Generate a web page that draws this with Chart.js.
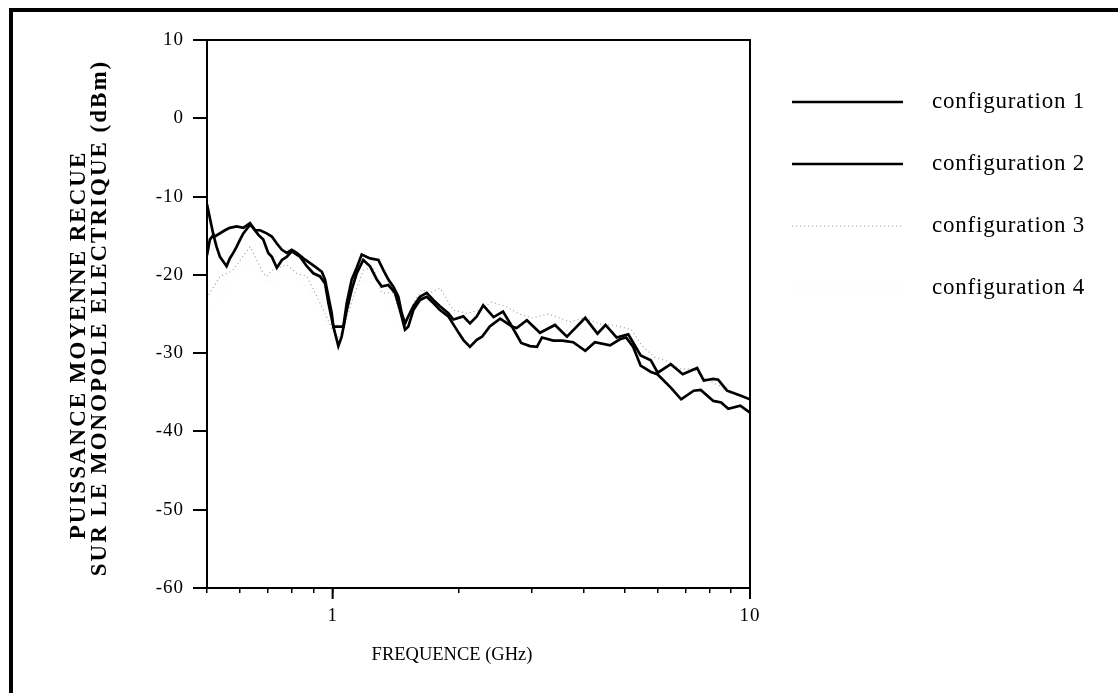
<!DOCTYPE html>
<html>
<head>
<meta charset="utf-8">
<script src="https://cdn.jsdelivr.net/npm/chart.js@4.4.1/dist/chart.umd.min.js"></script>
<style>
  html, body { margin: 0; padding: 0; background: #fff; }
  #page { position: relative; width: 1118px; height: 693px; overflow: hidden; }
  #cadre { position: absolute; left: 9px; top: 8px; width: 1200px; height: 800px; border-left: 4px solid #000; border-top: 4px solid #000; }
  canvas { position: absolute; left: 0; top: 0; }
</style>
</head>
<body>
<div id="page">
  <canvas id="graphe" width="1118" height="693"></canvas>
  <div id="cadre"></div>
</div>
<script>
// Fréquences (GHz) et puissances (dBm)
const freqConfig1 = [0.5, 0.518, 0.522, 0.552, 0.567, 0.589, 0.611, 0.634, 0.652, 0.670, 0.695, 0.715, 0.735, 0.756, 0.776, 0.798, 0.820, 0.851, 0.883, 0.916, 0.942, 0.959, 0.977, 0.995, 1.004, 1.061, 1.081, 1.111, 1.142, 1.174, 1.229, 1.287, 1.323, 1.360, 1.398, 1.437, 1.464, 1.491, 1.518, 1.561, 1.619, 1.680, 1.743, 1.808, 1.893, 1.947, 2.056, 2.133, 2.215, 2.295, 2.43, 2.56, 2.69, 2.83, 2.97, 3.087, 3.174, 3.38, 3.55, 3.77, 4.03, 4.25, 4.62, 4.89, 5.05, 5.25, 5.47, 5.79, 6.0, 6.46, 6.84, 7.33, 7.62, 8.17, 8.53, 8.87, 9.48, 10];
const dbmConfig1 = [-11, -14.9, -15.1, -14.3, -14.0, -13.8, -14.0, -13.4, -14.3, -14.3, -14.7, -15.1, -16.0, -16.8, -17.2, -16.8, -17.2, -17.9, -18.5, -19.1, -19.6, -20.6, -22.8, -24.9, -26.6, -26.6, -23.6, -20.6, -19.1, -17.4, -17.9, -18.1, -19.4, -20.6, -21.5, -22.8, -24.9, -26.2, -25.3, -24.0, -22.8, -22.3, -23.2, -24.0, -24.9, -25.7, -25.3, -26.2, -25.3, -23.9, -25.4, -24.7, -26.6, -28.7, -29.1, -29.2, -28.0, -28.4, -28.4, -28.6, -29.7, -28.6, -29.0, -28.2, -28.0, -29.2, -31.6, -32.4, -32.7, -34.4, -35.9, -34.8, -34.7, -36.1, -36.3, -37.1, -36.7, -37.6];

const freqConfig2 = [0.5, 0.508, 0.518, 0.527, 0.537, 0.547, 0.557, 0.567, 0.578, 0.589, 0.600, 0.611, 0.634, 0.645, 0.664, 0.682, 0.701, 0.715, 0.735, 0.756, 0.776, 0.798, 0.836, 0.867, 0.899, 0.933, 0.959, 0.977, 1.004, 1.032, 1.051, 1.081, 1.111, 1.142, 1.184, 1.229, 1.276, 1.311, 1.360, 1.411, 1.450, 1.491, 1.518, 1.561, 1.619, 1.680, 1.743, 1.808, 1.893, 1.982, 2.056, 2.133, 2.215, 2.28, 2.38, 2.52, 2.69, 2.76, 2.92, 3.139, 3.41, 3.643, 4.03, 4.31, 4.506, 4.79, 5.11, 5.47, 5.785, 6.01, 6.46, 6.9, 7.47, 7.75, 8.17, 8.39, 8.81, 9.48, 10];
const dbmConfig2 = [-17.5, -15.5, -14.9, -16.4, -17.7, -18.3, -18.9, -17.9, -17.2, -16.4, -15.5, -14.7, -13.6, -14.0, -14.9, -15.5, -17.2, -17.7, -19.1, -18.1, -17.7, -17.0, -17.7, -18.9, -19.8, -20.2, -21.1, -23.6, -26.6, -29.1, -27.9, -24.5, -21.9, -19.8, -18.1, -18.9, -20.6, -21.5, -21.3, -22.3, -24.5, -27.0, -26.6, -24.5, -23.2, -22.8, -23.6, -24.5, -25.3, -27.0, -28.3, -29.2, -28.3, -27.9, -26.6, -25.6, -26.6, -26.8, -25.8, -27.4, -26.4, -27.9, -25.5, -27.5, -26.4, -28.0, -27.6, -30.3, -30.9, -32.5, -31.4, -32.7, -31.9, -33.5, -33.3, -33.4, -34.8, -35.4, -35.9];

const freqConfig3 = [0.5, 0.508, 0.537, 0.575, 0.634, 0.645, 0.682, 0.695, 0.715, 0.776, 0.820, 0.867, 0.908, 0.950, 1.023, 1.061, 1.121, 1.184, 1.251, 1.311, 1.398, 1.450, 1.491, 1.561, 1.634, 1.711, 1.808, 1.947, 2.095, 2.254, 2.4, 2.6, 2.8, 3.0, 3.3, 3.7, 4.0, 4.4, 4.8, 5.2, 5.5, 5.9, 6.3, 6.8, 7.3, 7.8, 8.3, 8.8, 9.3, 10];
const dbmConfig3 = [-23, -22.3, -20.2, -19.5, -16.4, -17.2, -19.8, -20.2, -19.4, -18.7, -19.8, -20.2, -22.3, -24.5, -28.3, -27.0, -22.8, -19.4, -19.0, -22.3, -22.3, -24.9, -26.6, -23.6, -21.9, -22.3, -21.7, -24.5, -24.9, -24.5, -23.5, -24.0, -25.0, -25.5, -25.0, -26.0, -25.5, -26.3, -26.5, -27.0, -29.0, -30.5, -31.0, -32.0, -32.0, -33.2, -34.0, -34.5, -35.3, -36.0];

const freqConfig4 = [0.5, 0.55, 0.62, 0.7, 0.78, 0.87, 0.95, 1.02, 1.08, 1.18, 1.3, 1.45, 1.6, 1.8, 2.0, 2.3, 2.7, 3.0, 3.5, 4.0, 4.5, 5.0, 5.5, 6.0, 7.0, 8.0, 9.0, 10];
const dbmConfig4 = [-25, -22, -18.5, -21, -20, -21.5, -25.5, -29.5, -25, -20.5, -21.5, -26, -23, -23, -25.5, -25, -25.5, -26.5, -26, -27, -27, -27.5, -30, -31, -32.5, -34, -35, -36.5];

const nomsConfig = ['configuration 1', 'configuration 2', 'configuration 3', 'configuration 4'];

// Graduations
const xGraduations = [0.5, 0.6, 0.7, 0.8, 0.9, 1, 2, 3, 4, 5, 6, 7, 8, 9, 10];
const xEtiquettes = [1, 10];
const yMin = -60, yMax = 10, yPas = 10;

const titreX = 'FREQUENCE (GHz)';
const titreY = ['PUISSANCE MOYENNE RECUE', 'SUR LE MONOPOLE ELECTRIQUE (dBm)'];

function points(freqs, dbms) {
    return freqs.map((f, i) => ({ x: f, y: dbms[i] }));
}

// Plugin: cadre du graphe, titres des axes, légende
const habillage = {
    id: 'habillage',
    beforeDraw(chart) {
        chart.ctx.letterSpacing = '1px';   // chiffres un peu espacés
    },
    beforeDatasetsDraw(chart) {
        chart.ctx.letterSpacing = '0px';
    },
    afterDraw(chart) {
        const ctx = chart.ctx;
        const a = chart.chartArea;
        const x = chart.scales.x;
        ctx.save();
        ctx.strokeStyle = '#000';
        ctx.lineWidth = 2;
        ctx.strokeRect(a.left, a.top, a.right - a.left, a.bottom - a.top);

        // graduations principales plus longues
        ctx.beginPath();
        xEtiquettes.forEach(v => {
            const px = x.getPixelForValue(v);
            ctx.moveTo(px, a.bottom);
            ctx.lineTo(px, a.bottom + 11);
        });
        ctx.stroke();

        ctx.fillStyle = '#000';
        ctx.textBaseline = 'middle';
        ctx.textAlign = 'center';
        ctx.font = '18.5px "Liberation Serif"';
        ctx.fillText(titreX, 452, 655);

        // titre axe y (texte vertical)
        ctx.font = 'bold 23px "Liberation Serif"';
        ctx.letterSpacing = '2px';
        [[79, 345], [100, 318]].forEach((pos, i) => {
            ctx.save();
            ctx.translate(pos[0], pos[1]);
            ctx.rotate(-Math.PI / 2);
            ctx.fillText(titreY[i], 0, 0);
            ctx.restore();
        });

        // légende
        ctx.textAlign = 'left';
        ctx.font = '23px "Liberation Serif"';
        ctx.letterSpacing = '0.8px';
        chart.data.datasets.forEach((ds, i) => {
            const y = 102 + i * 62;
            ctx.save();
            ctx.strokeStyle = ds.borderColor;
            ctx.lineWidth = ds.borderWidth;
            ctx.setLineDash(ds.borderDash || []);
            ctx.beginPath();
            ctx.moveTo(792, y);
            ctx.lineTo(903, y);
            ctx.stroke();
            ctx.restore();
            ctx.fillText(ds.label, 932, y);
        });
        ctx.letterSpacing = '0px';
        ctx.restore();
    }
};

const ctx = document.getElementById('graphe').getContext('2d');
const graphe = new Chart(ctx, {
    type: 'line',
    data: {
        datasets: [{
            label: nomsConfig[0],
            data: points(freqConfig1, dbmConfig1),
            borderColor: '#000',
            borderWidth: 2.7
        }, {
            label: nomsConfig[1],
            data: points(freqConfig2, dbmConfig2),
            borderColor: '#000',
            borderWidth: 2.7
        }, {
            label: nomsConfig[2],
            data: points(freqConfig3, dbmConfig3),
            borderColor: '#a0a0a0',
            borderWidth: 1.2,
            borderDash: [1, 3]
        }, {
            label: nomsConfig[3],
            data: points(freqConfig4, dbmConfig4),
            borderColor: '#e8e8e8',
            borderWidth: 1,
            borderDash: [1, 4]
        }]
    },
    options: {
        responsive: false,
        animation: false,
        devicePixelRatio: 1,
        elements: { point: { radius: 0 }, line: { tension: 0 } },
        layout: { padding: { left: 0, top: 40, right: 368, bottom: 0 } },
        plugins: { legend: { display: false }, tooltip: { enabled: false } },
        scales: {
            x: {
                type: 'logarithmic',
                min: 0.5,
                max: 10,
                afterBuildTicks: (scale) => {
                    scale.ticks = xGraduations.map(v => ({ value: v, major: xEtiquettes.includes(v) }));
                },
                afterFit: (scale) => { scale.height = 105; },
                border: { color: '#000', width: 2 },
                grid: { drawOnChartArea: false, color: '#000', lineWidth: 1.5, tickLength: 5 },
                ticks: {
                    autoSkip: false,
                    maxRotation: 0,
                    padding: 12,
                    color: '#000',
                    font: { family: 'Liberation Serif', size: 19 },
                    callback: (v) => xEtiquettes.includes(v) ? String(v) : ''
                }
            },
            y: {
                min: yMin,
                max: yMax,
                afterFit: (scale) => { scale.width = 207; },
                border: { color: '#000', width: 2 },
                grid: { drawOnChartArea: false, color: '#000', lineWidth: 2, tickLength: 14 },
                ticks: {
                    stepSize: yPas,
                    padding: 9,
                    color: '#000',
                    font: { family: 'Liberation Serif', size: 19 }
                }
            }
        }
    },
    plugins: [habillage]
});
</script>
</body>
</html>
